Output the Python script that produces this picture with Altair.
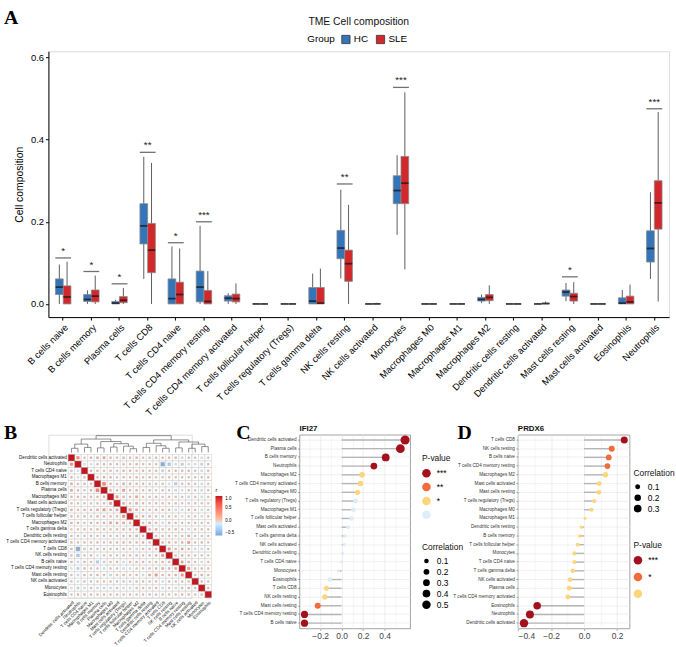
import altair as alt
import pandas as pd

NARROW = "Liberation Sans Narrow, Arial Narrow, Liberation Sans"
SANS = "Liberation Sans, Arial"
SERIF = "Liberation Serif, Times New Roman"

# ---------------- Panel A data ----------------
cells = ["B cells naive", "B cells memory", "Plasma cells", "T cells CD8", "T cells CD4 naive",
         "T cells CD4 memory resting", "T cells CD4 memory activated", "T cells follicular helper",
         "T cells regulatory (Tregs)", "T cells gamma delta", "NK cells resting", "NK cells activated",
         "Monocytes", "Macrophages M0", "Macrophages M1", "Macrophages M2", "Dendritic cells resting",
         "Dendritic cells activated", "Mast cells resting", "Mast cells activated", "Eosinophils", "Neutrophils"]

hc_lo  = [0.000, 0.000, 0.000, 0.061, 0.000, 0.000, 0.000, 0.0, 0.0, 0.000, 0.062, 0.0, 0.168, 0.0, 0.0, 0.002, 0.0, 0.0, 0.007, 0.0, 0.000, 0.061]
hc_q1  = [0.023, 0.006, 0.000, 0.146, 0.000, 0.005, 0.007, 0.0, 0.0, 0.000, 0.110, 0.0, 0.244, 0.0, 0.0, 0.007, 0.0, 0.0, 0.019, 0.0, 0.000, 0.102]
hc_med = [0.041, 0.011, 0.002, 0.190, 0.013, 0.041, 0.014, 0.0, 0.0, 0.007, 0.136, 0.0, 0.276, 0.0, 0.0, 0.011, 0.0, 0.0, 0.029, 0.0, 0.002, 0.135]
hc_q3  = [0.061, 0.023, 0.006, 0.244, 0.061, 0.080, 0.020, 0.0, 0.0, 0.040, 0.179, 0.0, 0.312, 0.0, 0.0, 0.016, 0.0, 0.0, 0.034, 0.0, 0.015, 0.178]
hc_hi  = [0.096, 0.033, 0.010, 0.358, 0.140, 0.190, 0.026, 0.001, 0.0, 0.074, 0.278, 0.001, 0.362, 0.0, 0.0, 0.023, 0.0, 0.001, 0.051, 0.0, 0.034, 0.272]

sle_lo  = [0.000, 0.000, 0.000, 0.000, 0.000, 0.000, 0.000, 0.0, 0.0, 0.000, 0.000, 0.0, 0.084, 0.0, 0.0, 0.000, 0.0, 0.000, 0.000, 0.0, 0.000, 0.006]
sle_q1  = [0.000, 0.005, 0.003, 0.076, 0.000, 0.000, 0.005, 0.0, 0.0, 0.000, 0.055, 0.0, 0.244, 0.0, 0.0, 0.008, 0.0, 0.000, 0.007, 0.0, 0.000, 0.182]
sle_med = [0.017, 0.019, 0.009, 0.131, 0.023, 0.006, 0.013, 0.0, 0.0, 0.002, 0.098, 0.0, 0.294, 0.0, 0.0, 0.016, 0.0, 0.001, 0.018, 0.0, 0.005, 0.246]
sle_q3  = [0.044, 0.034, 0.018, 0.196, 0.053, 0.033, 0.024, 0.0, 0.0, 0.040, 0.131, 0.001, 0.359, 0.0, 0.0, 0.023, 0.0, 0.002, 0.026, 0.0, 0.019, 0.300]
sle_hi  = [0.103, 0.069, 0.039, 0.343, 0.135, 0.080, 0.050, 0.001, 0.002, 0.086, 0.241, 0.003, 0.515, 0.0, 0.0, 0.045, 0.0, 0.006, 0.053, 0.0, 0.047, 0.467]

sig_cells  = ["B cells naive", "B cells memory", "Plasma cells", "T cells CD8", "T cells CD4 naive",
              "T cells CD4 memory resting", "NK cells resting", "Monocytes", "Mast cells resting", "Neutrophils"]
sig_labels = ["*", "*", "*", "**", "*", "***", "**", "***", "*", "***"]
sig_y      = [0.112, 0.079, 0.049, 0.369, 0.149, 0.200, 0.292, 0.527, 0.066, 0.475]

groups = ["HC", "SLE"]
group_colors = ["#3474B8", "#D2282C"]

# ---------------- Panel B data ----------------
order_b = ["Dendritic cells activated", "Neutrophils", "T cells CD4 naive", "Macrophages M1", "B cells memory",
           "Plasma cells", "Macrophages M0", "Mast cells activated", "T cells regulatory (Tregs)",
           "T cells follicular helper", "Macrophages M2", "T cells gamma delta", "Dendritic cells resting",
           "T cells CD4 memory activated", "T cells CD8", "NK cells resting", "B cells naive",
           "T cells CD4 memory resting", "Mast cells resting", "NK cells activated", "Monocytes", "Eosinophils"]

corr_lower = [
    [],
    [0.35],
    [0.05, -0.03],
    [0.12, -0.02, 0.10],
    [0.20, 0.05, 0.10, 0.08],
    [0.25, 0.10, 0.05, 0.15, 0.45],
    [0.12, 0.10, 0.08, 0.10, 0.10, 0.15],
    [0.08, 0.05, 0.02, 0.05, 0.05, 0.10, 0.30],
    [0.15, 0.08, 0.12, 0.10, 0.20, 0.30, 0.15, 0.20],
    [0.10, 0.05, 0.10, 0.05, 0.15, 0.12, 0.10, 0.10, 0.35],
    [0.15, 0.12, 0.05, 0.10, 0.10, 0.15, 0.25, 0.20, 0.20, 0.15],
    [0.02, 0.05, 0.08, 0.05, 0.10, 0.08, 0.05, 0.10, 0.12, 0.15, 0.10],
    [0.08, 0.05, 0.05, 0.10, 0.05, 0.10, 0.08, 0.05, 0.10, 0.15, 0.20, 0.15],
    [0.10, 0.05, 0.08, 0.05, 0.08, 0.05, 0.10, 0.08, 0.12, 0.10, 0.10, 0.15, 0.10],
    [0.10, -0.55, -0.20, 0.05, 0.05, 0.08, 0.05, 0.08, 0.10, 0.05, -0.10, 0.05, 0.08, 0.15],
    [0.10, -0.35, 0.05, 0.08, -0.05, 0.05, 0.08, 0.05, 0.10, 0.08, 0.12, 0.05, 0.10, 0.15, 0.30],
    [0.12, -0.10, 0.10, 0.05, -0.30, -0.15, 0.05, 0.10, -0.10, 0.05, 0.08, 0.10, 0.05, 0.10, 0.12, 0.10],
    [-0.05, -0.25, 0.10, 0.05, 0.05, -0.08, 0.05, 0.05, -0.10, -0.08, 0.05, 0.05, 0.10, 0.15, 0.20, 0.15, 0.25],
    [0.05, -0.10, 0.08, 0.05, 0.10, 0.08, -0.15, 0.05, 0.10, 0.05, 0.08, -0.10, 0.20, 0.30, 0.10, 0.10, 0.15, 0.30],
    [0.02, -0.05, 0.05, 0.05, 0.03, 0.05, 0.05, 0.05, 0.05, 0.03, 0.05, 0.05, 0.05, 0.05, -0.08, 0.05, 0.05, 0.08, 0.05],
    [-0.05, -0.20, -0.10, 0.05, -0.10, -0.12, -0.10, 0.05, -0.08, -0.10, 0.05, 0.05, 0.05, 0.10, -0.10, 0.05, -0.10, 0.10, 0.15, 0.10],
    [0.05, 0.10, 0.08, 0.08, 0.05, 0.08, 0.05, 0.05, 0.05, 0.05, 0.05, 0.05, 0.08, 0.05, 0.05, 0.05, 0.05, 0.10, 0.10, 0.05, 0.08],
]

# column clustering tree: (left, right, merge height); ints are column indices
dendro_tree = (
    (((0, 1, 1.0), (2, 3, 1.2), 2.0),
     ((4, 5, 1.1), ((6, 7, 1.3), (8, (9, 10, 0.9), 1.5), 2.1), 2.6), 3.2),
    (((11, 12, 1.2), (13, (14, 15, 1.0), 1.6), 2.2),
     ((16, 17, 1.1), ((18, 19, 1.0), (20, 21, 1.4), 2.0), 2.5), 3.0),
    4.0)

# ---------------- Panel C / D data ----------------
c_cells = ["Dendritic cells activated", "Plasma cells", "B cells memory", "Neutrophils", "Macrophages M2",
           "T cells CD4 memory activated", "Macrophages M0", "T cells regulatory (Tregs)", "Macrophages M1",
           "T cells follicular helper", "Mast cells activated", "T cells gamma delta", "NK cells activated",
           "Dendritic cells resting", "T cells CD4 naive", "Monocytes", "Eosinophils", "T cells CD8",
           "NK cells resting", "Mast cells resting", "T cells CD4 memory resting", "B cells naive"]
c_r = [0.590, 0.546, 0.410, 0.300, 0.190, 0.175, 0.148, 0.130, 0.110, 0.092, 0.062, 0.030, 0.025,
       0.010, -0.003, -0.030, -0.108, -0.142, -0.157, -0.222, -0.345, -0.345]
c_p = ["***", "***", "***", "***", "*", "*", "*", "ns", "ns", "ns", "ns", "ns", "ns", "ns", "ns", "ns",
       "ns", "*", "*", "**", "***", "***"]

d_cells = ["T cells CD8", "NK cells resting", "B cells naive", "T cells CD4 memory resting", "Macrophages M2",
           "Mast cells activated", "Mast cells resting", "T cells regulatory (Tregs)", "Macrophages M0",
           "Macrophages M1", "Dendritic cells resting", "B cells memory", "T cells follicular helper",
           "Monocytes", "T cells CD4 naive", "T cells gamma delta", "NK cells activated", "Plasma cells",
           "T cells CD4 memory activated", "Eosinophils", "Neutrophils", "Dendritic cells activated"]
d_r = [0.244, 0.168, 0.150, 0.142, 0.130, 0.092, 0.090, 0.062, 0.046, 0.006, -0.016, -0.026, -0.038,
       -0.058, -0.058, -0.068, -0.084, -0.090, -0.098, -0.284, -0.328, -0.364]
d_p = ["***", "*", "*", "*", "ns", "ns", "ns", "ns", "ns", "ns", "ns", "ns", "ns", "ns", "ns", "ns",
       "ns", "ns", "ns", "***", "***", "***"]


def label_text(txt, x, y, size, weight="normal", font=SANS, align="left", baseline="top", color="black"):
    return alt.Chart(pd.DataFrame({"t": [txt]})).mark_text(
        align=align, baseline=baseline, font=font, fontSize=size, fontWeight=weight, color=color).encode(
        text="t:N", x=alt.value(x), y=alt.value(y))


# ======================= Panel A =======================
rows = []
for i, c in enumerate(cells):
    rows.append(dict(cell=c, group="HC", lo=hc_lo[i], q1=hc_q1[i], med=hc_med[i], q3=hc_q3[i], hi=hc_hi[i]))
    rows.append(dict(cell=c, group="SLE", lo=sle_lo[i], q1=sle_q1[i], med=sle_med[i], q3=sle_q3[i], hi=sle_hi[i]))
dfA = pd.DataFrame(rows)
dfSig = pd.DataFrame(dict(cell=sig_cells, lab=sig_labels, sy=sig_y))

xA = alt.X("cell:N", sort=cells, title=None,
           scale=alt.Scale(paddingInner=0.45, paddingOuter=0.25),
           axis=alt.Axis(labelAngle=-45, labelAlign="right", labelBaseline="top", labelFontSize=9.5,
                         labelColor="black", labelPadding=2, labelLimit=400, labelOverlap=False,
                         domainColor="black", tickColor="black", tickSize=3, labelFont=SANS))
scaleYA = alt.Scale(domain=[-0.032, 0.615], nice=False, zero=False)
axisYA = alt.Axis(values=[0, 0.2, 0.4, 0.6], format=".1f", grid=False, domainColor="black",
                  tickColor="black", tickSize=3, labelFontSize=9.5, labelColor="black",
                  titleFontSize=10.5, titleFontWeight="normal", titlePadding=6, labelFont=SANS,
                  titleColor="black")


def yA(field):
    return alt.Y(field, title="Cell composition", scale=scaleYA, axis=axisYA)


xoff = alt.XOffset("group:N", sort=groups, scale=alt.Scale(paddingInner=0, paddingOuter=0))
colA = alt.Color("group:N", sort=groups, scale=alt.Scale(domain=groups, range=group_colors),
                 legend=alt.Legend(title="Group", orient="none", legendX=262, legendY=-17,
                                   direction="horizontal", titleOrient="left", symbolType="square",
                                   symbolSize=70, symbolStrokeColor="#333", symbolStrokeWidth=0.8,
                                   labelFontSize=10, titleFontSize=10, titleFontWeight="normal",
                                   columnPadding=6, titlePadding=6, labelOffset=3,
                                   labelColor="black", titleColor="black"))

baseA = alt.Chart(dfA)
whisk = baseA.mark_rule(color="#333", strokeWidth=0.8).encode(x=xA, xOffset=xoff, y=yA("lo:Q"), y2="hi:Q")
boxes = baseA.mark_bar(stroke="#8a8a8a", strokeWidth=0.8).encode(x=xA, xOffset=xoff, y=yA("q1:Q"), y2="q3:Q", color=colA)
meds = baseA.mark_tick(color="#111", thickness=1.8, size=7.5).encode(x=xA, xOffset=xoff, y=yA("med:Q"))
sigbar = alt.Chart(dfSig).mark_tick(color="#333", thickness=1.3, size=16).encode(x=xA, y=yA("sy:Q"))
sigtxt = alt.Chart(dfSig).mark_text(baseline="bottom", dy=-2, fontSize=10, color="#222").encode(
    x=xA, y=yA("sy:Q"), text="lab:N")
letterA = label_text("A", -45, -44, 20, "bold", SERIF)
titleA = label_text("TME Cell composition", 314, -27, 10.5, "normal", SANS, align="center",
                    baseline="alphabetic", color="#111")

panelA = alt.layer(whisk, boxes, meds, sigbar, sigtxt, letterA, titleA).properties(width=628, height=269)

# ======================= Panel B =======================
n = len(order_b)
bro = []
for i in range(n):
    for j in range(n):
        if i == j:
            r = 1.0
        elif j < i:
            r = corr_lower[i][j]
        else:
            r = corr_lower[j][i]
        bro.append(dict(row=order_b[i], col=order_b[j], r=r, ar=abs(r)))
dfB = pd.DataFrame(bro)

segs = []


def walk(node):
    if isinstance(node, int):
        return float(node), 0.0
    left, right, h = node
    xl, hl = walk(left)
    xr, hr = walk(right)
    segs.append(dict(xa=xl, xb=xl, ya=hl, yb=h))
    segs.append(dict(xa=xr, xb=xr, ya=hr, yb=h))
    segs.append(dict(xa=xl, xb=xr, ya=h, yb=h))
    return (xl + xr) / 2, h


walk(dendro_tree)
dfDen = pd.DataFrame(segs)

xB = alt.X("col:N", sort=order_b, title=None,
           scale=alt.Scale(range=[20, 165], paddingInner=0, paddingOuter=0),
           axis=alt.Axis(labelAngle=-45, labelAlign="right", labelBaseline="top", labelFontSize=4.6,
                         labelFont=NARROW, domain=False, ticks=False, labelPadding=2, labelColor="#111",
                         labelLimit=200, labelOverlap=False))
yB = alt.Y("row:N", sort=order_b, title=None,
           scale=alt.Scale(range=[20, 165], paddingInner=0, paddingOuter=0),
           axis=alt.Axis(labelFontSize=4.6, labelFont=NARROW, domain=False, ticks=False, labelPadding=2,
                         labelColor="#111", offset=-20, labelLimit=200, labelOverlap=False))

cellsB = alt.Chart(dfB).mark_rect(fill="white", stroke="#C9C9C9", strokeWidth=0.5).encode(x=xB, y=yB)
sqB = alt.Chart(dfB).mark_square(opacity=1, stroke="#9a9a9a", strokeWidth=0.3).encode(
    x=xB, y=yB,
    size=alt.Size("ar:Q", scale=alt.Scale(type="pow", exponent=2, domain=[0, 1], range=[3, 42]), legend=None),
    color=alt.Color("r:Q", scale=alt.Scale(domain=[-0.6, 0, 1], range=["#7FA5D3", "#FFFFFF", "#C3161F"], clamp=True),
                    legend=alt.Legend(title="r", orient="none", legendX=169, legendY=54, gradientLength=40,
                                      gradientThickness=7, labelFontSize=4.5, titleFontSize=5,
                                      titleFontWeight="normal", values=[1.0, 0.5, 0.0, -0.5], format=".1f",
                                      direction="vertical", gradientStrokeWidth=0, labelOffset=3,
                                      titlePadding=3)))
heat = alt.layer(cellsB, sqB)
dend = alt.Chart(dfDen).mark_rule(color="#444", strokeWidth=0.6).encode(
    x=alt.X("xa:Q", scale=alt.Scale(domain=[-0.5, 21.5], range=[20, 165], nice=False, zero=False), axis=None),
    x2="xb:Q",
    y=alt.Y("ya:Q", scale=alt.Scale(domain=[0, 4], range=[18, 1], nice=False, zero=False), axis=None),
    y2="yb:Q")
letterB = label_text("B", -45, -12, 20, "bold", SERIF)
panelB = alt.layer(heat, dend, letterB).resolve_scale(x="independent", y="independent").properties(
    width=145, height=165)

# ======================= Panels C & D =======================
major_test = "abs(round(datum.value*10)) % 2 == 0"


def lollipop(names, vals, pvals, title, letter, letter_x, xdom, xvals, pdomain, pcolors, sdom, srange,
             cvals, plegend_y, slegend_y, legx, width, prow):
    df = pd.DataFrame(dict(cell=names, r=vals, p=pvals))
    df["ar"] = df["r"].abs()
    ycol = alt.Y("cell:N", sort=names, title=None,
                 scale=alt.Scale(paddingInner=0, paddingOuter=0.1),
                 axis=alt.Axis(labelFontSize=4.7, labelFont=NARROW, labelColor="#333", domain=False,
                               tickSize=2, tickColor="#555", tickWidth=0.5, grid=True, gridColor="#E6E6E6",
                               gridWidth=0.6, labelPadding=1.5, bandPosition=0.5, labelLimit=200))
    xscale = alt.Scale(domain=xdom, nice=False, zero=False)
    xaxis = alt.Axis(values=xvals,
                     labelExpr=major_test + " ? format(datum.value, '.1f') : ''",
                     grid=True, gridColor="#E6E6E6",
                     gridWidth={"condition": {"test": major_test, "value": 0.7}, "value": 0.35},
                     tickOpacity={"condition": {"test": major_test, "value": 1}, "value": 0},
                     tickSize=2, tickColor="#555", tickWidth=0.5, domain=False, labelFontSize=8.5,
                     labelColor="#444", labelPadding=1, labelFont=SANS, labelOverlap=False)
    base = alt.Chart(df).transform_calculate(zero="0")
    seg = base.mark_rule(color="#B5B5B5", strokeWidth=1.4).encode(
        x=alt.X("zero:Q", title=None, scale=xscale, axis=xaxis), x2="r:Q", y=ycol)
    dots = base.mark_circle(opacity=1).encode(
        x=alt.X("r:Q", title=None, scale=xscale, axis=xaxis), y=ycol,
        color=alt.Color("p:N", scale=alt.Scale(domain=pdomain, range=pcolors),
                        legend=alt.Legend(title="P-value", orient="none", legendX=legx, legendY=plegend_y,
                                          symbolType="circle", symbolSize=75, labelFontSize=8.5,
                                          titleFontSize=8.5, titleFontWeight="normal", labelFont=SANS,
                                          titleFont=SANS, rowPadding=prow, titlePadding=6, labelOffset=6,
                                          labelExpr="datum.label == 'ns' ? '' : datum.label",
                                          symbolStrokeWidth=0, labelColor="black", titleColor="#111")),
        size=alt.Size("ar:Q", scale=alt.Scale(domain=sdom, range=srange, zero=False),
                      legend=alt.Legend(title="Correlation", orient="none", legendX=legx, legendY=slegend_y,
                                        values=cvals, symbolFillColor="black", symbolStrokeWidth=0,
                                        labelFontSize=8.5, titleFontSize=8.5, titleFontWeight="normal",
                                        labelFont=SANS, titleFont=SANS, rowPadding=2, titlePadding=5,
                                        labelOffset=6, format=".1f", labelColor="black", titleColor="#111")))
    let = label_text(letter, letter_x, -12, 20, "bold", SERIF)
    ttl = label_text(title, 0, -2, 8, "bold", SANS, baseline="bottom", color="#111")
    return alt.layer(seg, dots, let, ttl).resolve_scale(color="independent", size="independent").properties(
        width=width, height=196,
        view=alt.ViewBackground(stroke="#8C8C8C", strokeWidth=0.8))


panelC = lollipop(c_cells, c_r, c_p, "IFI27", "C", -64, [-0.392, 0.637],
                  [-0.3, -0.2, -0.1, 0.0, 0.1, 0.2, 0.3, 0.4, 0.5],
                  ["***", "**", "*", "ns"], ["#A3121C", "#F26B38", "#FDD67C", "#DCEDF8"],
                  [0.003, 0.59], [9, 85], [0.1, 0.2, 0.3, 0.4, 0.5], 20, 110, 124, 112, 5)
panelD = lollipop(d_cells, d_r, d_p, "PRDX6", "D", -61, [-0.401, 0.276],
                  [-0.4, -0.3, -0.2, -0.1, 0.0, 0.1, 0.2],
                  ["***", "*", "ns"], ["#A3121C", "#F26B38", "#FDD67C"],
                  [0.006, 0.364], [9, 72], [0.1, 0.2, 0.3], 108, 35, 117, 113, 8)

bottom = alt.hconcat(panelB, panelC, panelD, spacing=109, bounds="flush").resolve_scale(
    color="independent", size="independent").resolve_legend(color="independent", size="independent")
chart = alt.vconcat(panelA, bottom, spacing=119, bounds="flush").resolve_scale(
    color="independent", size="independent").resolve_legend(color="independent", size="independent").properties(
    padding={"left": 3, "top": 3, "right": 0, "bottom": 0}
).configure_view(stroke=None).configure(font=SANS)

chart.save("out.html", embed_options={"renderer": "svg", "actions": False})
